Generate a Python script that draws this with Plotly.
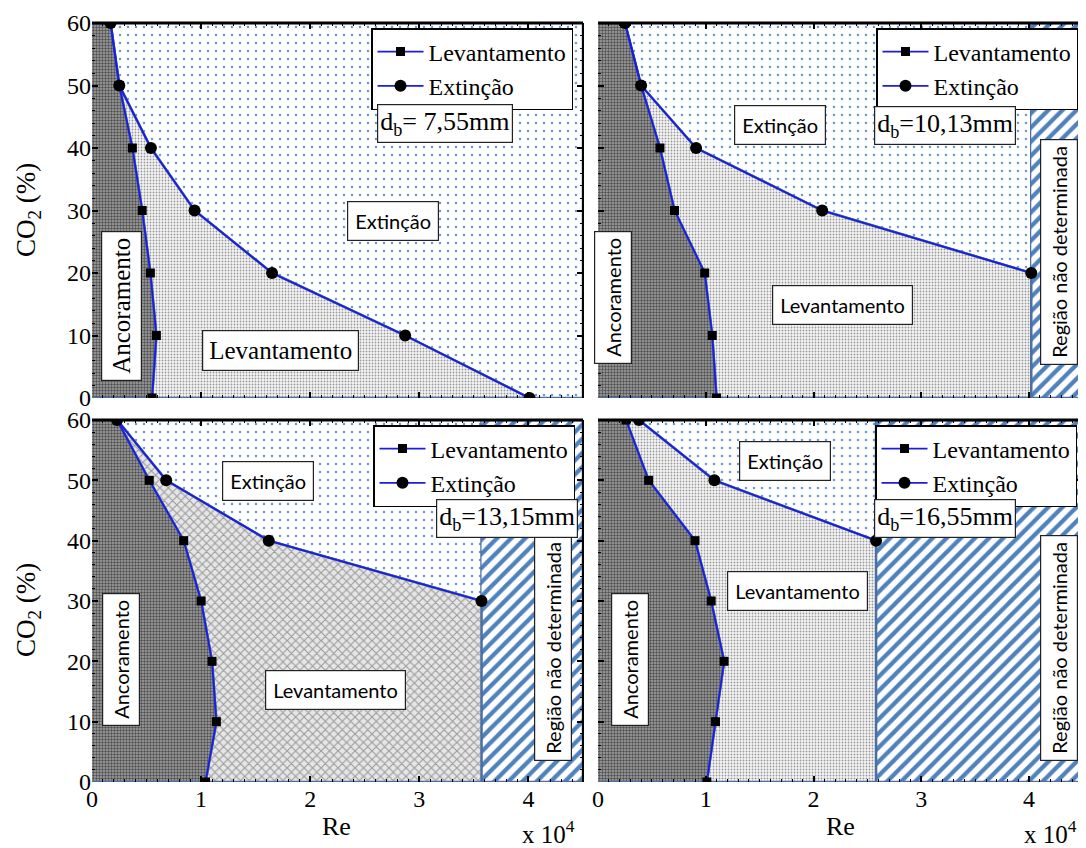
import plotly.graph_objects as go

# page body adds an 8 px margin, so the figure is drawn 8 px in from the corner
OFF = 8
W, H = 1086 - OFF, 848 - OFF

# ---------------- data ----------------
co2_levels = [60, 50, 40, 30, 20, 10, 0]

# d_b = 7,55 mm
lev1_re = [0.17, 0.25, 0.37, 0.46, 0.535, 0.59, 0.55]
ext1_co2 = [60, 50, 40, 30, 20, 10, 0]
ext1_re = [0.17, 0.25, 0.54, 0.94, 1.65, 2.87, 4.01]
# d_b = 10,13 mm
lev2_re = [0.25, 0.40, 0.575, 0.71, 0.99, 1.06, 1.10]
ext2_co2 = [60, 50, 40, 30, 20]
ext2_re = [0.25, 0.40, 0.91, 2.08, 4.02]
# d_b = 13,15 mm
lev3_re = [0.23, 0.525, 0.84, 1.00, 1.10, 1.14, 1.04]
ext3_co2 = [60, 50, 40, 30]
ext3_re = [0.23, 0.68, 1.62, 3.57]
# d_b = 16,55 mm
lev4_re = [0.26, 0.47, 0.90, 1.05, 1.17, 1.09, 1.01]
ext4_co2 = [60, 50, 40]
ext4_re = [0.38, 1.08, 2.58]

diameters = ["7,55", "10,13", "13,15", "16,55"]
re_ticks = [0, 1, 2, 3, 4]
co2_ticks = [0, 10, 20, 30, 40, 50, 60]
RE_MAX = 4.5
CO2_MAX = 60

# ---------------- styles ----------------
SERIF = "Liberation Serif, Times New Roman, serif"
SANS = "Lato, Open Sans, sans-serif"
OUTLINE = "#4a6fa0"
LINE_BLUE = "#1c1ce0"

PAT_ANC = dict(shape=".", size=3, solidity=0.5, fgcolor="#505050", bgcolor="#a4a4a4", fgopacity=1)
PAT_LEV = dict(shape=".", size=3, solidity=0.3, fgcolor="#9a9a9a", bgcolor="#f6f6f6", fgopacity=1)
PAT_LEV_X = dict(shape="x", size=6, solidity=0.35, fgcolor="#9c9c9c", bgcolor="#e6e6e6", fgopacity=1)
PAT_EXT = dict(shape=".", size=8, solidity=0.08, fgcolor="#6a9ad4", bgcolor="white", fgopacity=1)
PAT_ND = dict(shape="/", size=10, solidity=0.42, fgcolor="#4f81bd", bgcolor="white", fgopacity=1)


def px(x):
    return (x - OFF) / W


def py(y):
    return 1 - (y - OFF) / H


domains = [
    ([px(92), px(583)], [py(398), py(23)]),
    ([px(598), px(1083)], [py(398), py(23)]),
    ([px(92), px(583)], [py(782), py(420)]),
    ([px(598), px(1083)], [py(782), py(420)]),
]

panels = [
    (lev1_re, ext1_co2, ext1_re, PAT_LEV),
    (lev2_re, ext2_co2, ext2_re, PAT_LEV),
    (lev3_re, ext3_co2, ext3_re, PAT_LEV_X),
    (lev4_re, ext4_co2, ext4_re, PAT_LEV),
]

fig = go.Figure()


def poly(xs, ys, pat, ax, ay):
    fig.add_trace(go.Scatter(
        x=xs, y=ys, mode="lines", fill="toself",
        fillcolor=pat["bgcolor"], fillpattern=pat,
        line=dict(color=OUTLINE, width=2.5),
        xaxis=ax, yaxis=ay, showlegend=False, hoverinfo="skip"))


for i, (lev_re, ext_co2, ext_re, levpat) in enumerate(panels):
    n = i + 1
    ax = "x" if n == 1 else f"x{n}"
    ay = "y" if n == 1 else f"y{n}"
    last_re = ext_re[-1]
    last_co2 = ext_co2[-1]

    # Extinção region
    if last_co2 == 0:
        poly(ext_re + [RE_MAX, RE_MAX], ext_co2 + [0, CO2_MAX], PAT_EXT, ax, ay)
    else:
        poly(ext_re + [last_re], ext_co2 + [CO2_MAX], PAT_EXT, ax, ay)
        # undetermined region
        poly([last_re, RE_MAX, RE_MAX, last_re], [0, 0, CO2_MAX, CO2_MAX], PAT_ND, ax, ay)

    # Levantamento region
    if last_co2 == 0:
        xs = ext_re + lev_re[::-1]
        ys = ext_co2 + co2_levels[::-1]
    else:
        xs = ext_re + [last_re] + lev_re[::-1]
        ys = ext_co2 + [0] + co2_levels[::-1]
    poly(xs, ys, levpat, ax, ay)

    # Ancoramento region
    poly([0] + lev_re + [0], [CO2_MAX] + co2_levels + [0], PAT_ANC, ax, ay)

    leg = "legend" if n == 1 else f"legend{n}"
    fig.add_trace(go.Scatter(
        x=lev_re, y=co2_levels, mode="lines+markers", name="Levantamento",
        line=dict(color=LINE_BLUE, width=1.8),
        marker=dict(symbol="square", size=9, color="black"),
        xaxis=ax, yaxis=ay, legend=leg))
    fig.add_trace(go.Scatter(
        x=ext_re, y=ext_co2, mode="lines+markers", name="Extinção",
        line=dict(color=LINE_BLUE, width=1.8),
        marker=dict(symbol="circle", size=12, color="black"),
        xaxis=ax, yaxis=ay, legend=leg))

layout = dict(
    width=W, height=H, margin=dict(l=0, r=0, t=0, b=0, pad=0, autoexpand=False),
    paper_bgcolor="white", plot_bgcolor="white",
    showlegend=True,
)

for i, (xd, yd) in enumerate(domains):
    n = i + 1
    xk = "xaxis" if n == 1 else f"xaxis{n}"
    yk = "yaxis" if n == 1 else f"yaxis{n}"
    ax = "x" if n == 1 else f"x{n}"
    ay = "y" if n == 1 else f"y{n}"
    bottom = n in (3, 4)
    left = n in (1, 3)
    layout[xk] = dict(
        domain=xd, range=[0, RE_MAX], anchor=ay, automargin=False,
        tickvals=re_ticks, showticklabels=bottom,
        ticks="inside", ticklen=6, tickwidth=1.5, tickcolor="black",
        mirror="ticks", showline=False, showgrid=False, zeroline=False,
        minor=dict(dtick=0.1, ticks="inside", ticklen=3, tickcolor="black", tickwidth=1.2, showgrid=False),
        tickfont=dict(family=SERIF, size=24, color="black"),
        fixedrange=True,
    )
    layout[yk] = dict(
        domain=yd, range=[0, CO2_MAX], anchor=ax, automargin=False,
        tickvals=co2_ticks, showticklabels=left,
        ticks="inside", ticklen=6, tickwidth=1.5, tickcolor="black",
        mirror="ticks", showline=False, showgrid=False, zeroline=False,
        minor=dict(dtick=2, ticks="inside", ticklen=3, tickcolor="black", tickwidth=1.2, showgrid=False),
        tickfont=dict(family=SERIF, size=24, color="black"),
        fixedrange=True,
    )

legend_pos = [(573, 28), (1078, 28), (575, 425), (1077, 425)]
for i, (lx, ly) in enumerate(legend_pos):
    key = "legend" if i == 0 else f"legend{i + 1}"
    layout[key] = dict(
        x=px(lx), y=py(ly), xanchor="right", yanchor="top",
        bgcolor="white", bordercolor="black", borderwidth=1.5,
        font=dict(family=SERIF, size=24, color="black"),
        tracegroupgap=0, itemwidth=46, entrywidth=180, entrywidthmode="pixels",
    )

fig.update_layout(**layout)

# black top / right frame lines
for i in range(4):
    n = i + 1
    ax = "x" if n == 1 else f"x{n}"
    ay = "y" if n == 1 else f"y{n}"
    fig.add_shape(type="line", xref=f"{ax} domain", yref=f"{ay} domain",
                  x0=0, x1=1, y0=1, y1=1, line=dict(color="black", width=3))
    fig.add_shape(type="line", xref=f"{ax} domain", yref=f"{ay} domain",
                  x0=1, x1=1, y0=0, y1=1, line=dict(color="black", width=2))


def label(text, x, y, font, size, angle=0, pad=7):
    fig.add_annotation(
        text=text, x=px(x), y=py(y), xref="paper", yref="paper",
        showarrow=False, textangle=angle,
        font=dict(family=font, size=size, color="black"),
        bgcolor="white", bordercolor="#222", borderwidth=1.2, borderpad=pad,
        xanchor="center", yanchor="middle")


def text(t, x, y, size, angle=0):
    fig.add_annotation(
        text=t, x=px(x), y=py(y), xref="paper", yref="paper",
        showarrow=False, textangle=angle,
        font=dict(family=SERIF, size=size, color="black"),
        xanchor="center", yanchor="middle")


S = 20
# panel 1
label("Extinção", 393, 221, SANS, S)
label("Levantamento", 280, 350, SERIF, 25, pad=6)
label("Ancoramento", 121, 306, SERIF, 25, angle=-90, pad=6)
label(f"d<sub>b</sub>= {diameters[0]}mm", 445, 124, SERIF, 26, pad=2)
# panel 2
label("Extinção", 780, 125, SANS, S)
label("Levantamento", 842, 305, SANS, S)
label("Ancoramento", 613, 298, SANS, S, angle=-90, pad=6)
label("Região não determinada", 1059, 252, SANS, S, angle=-90, pad=6)
label(f"d<sub>b</sub>={diameters[1]}mm", 945, 126, SERIF, 26, pad=2)
# panel 3
label("Extinção", 268, 481, SANS, S)
label("Levantamento", 335, 690, SANS, S)
label("Ancoramento", 121, 660, SANS, S, angle=-90, pad=6)
label("Região não determinada", 553, 648, SANS, S, angle=-90, pad=6)
label(f"d<sub>b</sub>={diameters[2]}mm", 507, 519, SERIF, 26, pad=2)
# panel 4
label("Extinção", 785, 461, SANS, S)
label("Levantamento", 797, 591, SANS, S)
label("Ancoramento", 630, 660, SANS, S, angle=-90, pad=6)
label("Região não determinada", 1059, 648, SANS, S, angle=-90, pad=6)
label(f"d<sub>b</sub>={diameters[3]}mm", 945, 519, SERIF, 26, pad=2)

# axis titles
text("CO<sub>2</sub> (%)", 28, 210, 27, angle=-90)
text("CO<sub>2</sub> (%)", 28, 610, 27, angle=-90)
text("Re", 336, 826, 26)
text("Re", 840, 826, 26)
text("x 10<sup>4</sup>", 548, 832, 25)
text("x 10<sup>4</sup>", 1050, 832, 25)

fig.write_html("out.html")
